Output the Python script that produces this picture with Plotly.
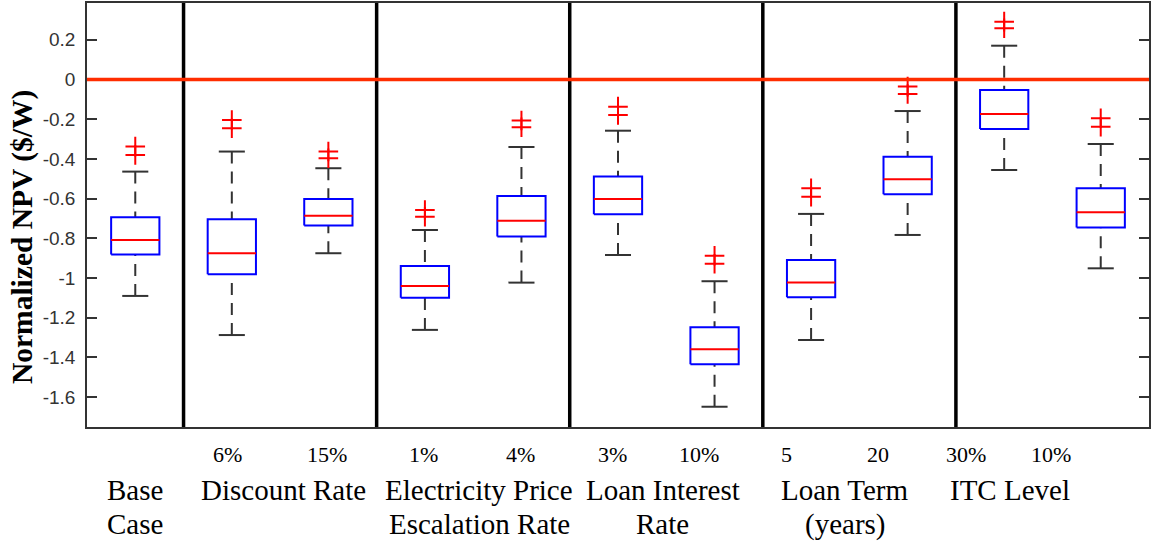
import plotly.graph_objects as go

# ---- data ----
positions = [1, 2, 3, 4, 5, 6, 7, 8, 9, 10, 11]
q1 = [-0.882, -0.981, -0.736, -1.099, -0.791, -0.679, -1.434, -1.097, -0.578, -0.249, -0.746]
median = [-0.808, -0.875, -0.686, -1.040, -0.711, -0.602, -1.359, -1.023, -0.503, -0.174, -0.669]
q3 = [-0.694, -0.704, -0.602, -0.939, -0.587, -0.489, -1.248, -0.909, -0.389, -0.053, -0.548]
upper_whisker = [-0.464, -0.363, -0.447, -0.758, -0.340, -0.258, -1.016, -0.677, -0.159, 0.170, -0.325]
lower_whisker = [-1.090, -1.287, -0.875, -1.261, -1.023, -0.884, -1.648, -1.312, -0.783, -0.456, -0.951]
outlier_hi = [-0.338, -0.204, -0.363, -0.657, -0.207, -0.137, -0.888, -0.548, -0.036, 0.291, -0.195]
outlier_lo = [-0.380, -0.246, -0.397, -0.691, -0.241, -0.179, -0.928, -0.590, -0.073, 0.258, -0.238]

level_labels = ["6%", "15%", "1%", "4%", "3%", "10%", "5", "20", "30%", "10%"]
level_label_x = [1.955, 2.981, 3.990, 4.995, 5.945, 6.839, 7.741, 8.694, 9.606, 10.487]

group_lines1 = ["Base", "Discount Rate", "Electricity Price", "Loan Interest", "Loan Term", "ITC Level"]
group_lines2 = ["Case", "", "Escalation Rate", "Rate", "(years)", ""]
group_label_x = [1.0, 2.539, 4.565, 6.466, 8.352, 10.06]
group_bounds = [1.5, 3.5, 5.5, 7.5, 9.5]

ytick_vals = [-1.6, -1.4, -1.2, -1.0, -0.8, -0.6, -0.4, -0.2, 0.0, 0.2]
ytick_text = ["-1.6", "-1.4", "-1.2", "-1", "-0.8", "-0.6", "-0.4", "-0.2", "0", "0.2"]

# ---- style ----
BOX_HW = 0.25
CAP_HW = 0.135
serif = "Liberation Serif"
sans = "Liberation Sans"

fig = go.Figure()

# group dividers and zero line
for b in group_bounds:
    fig.add_shape(type="line", xref="x", yref="paper", x0=b, x1=b, y0=0, y1=1,
                  line=dict(color="black", width=3.5), layer="above")
fig.add_shape(type="line", xref="paper", yref="y", x0=0, x1=1, y0=0, y1=0,
              line=dict(color="#ff2d00", width=3.5), layer="above")

# whiskers (dashed)
wx, wy = [], []
for p, a, b, c, d in zip(positions, upper_whisker, q3, q1, lower_whisker):
    wx += [p, p, None, p, p, None]
    wy += [a, b, None, d, c, None]
fig.add_trace(go.Scatter(x=wx, y=wy, mode="lines", hoverinfo="skip",
                         line=dict(color="#333333", width=2, dash="12px,8px")))
# caps
cx, cy = [], []
for p, a, d in zip(positions, upper_whisker, lower_whisker):
    cx += [p - CAP_HW, p + CAP_HW, None, p - CAP_HW, p + CAP_HW, None]
    cy += [a, a, None, d, d, None]
fig.add_trace(go.Scatter(x=cx, y=cy, mode="lines", hoverinfo="skip",
                         line=dict(color="#333333", width=2)))
# boxes
bx, by = [], []
for p, lo, hi in zip(positions, q1, q3):
    bx += [p - BOX_HW, p + BOX_HW, p + BOX_HW, p - BOX_HW, p - BOX_HW, None]
    by += [lo, lo, hi, hi, lo, None]
fig.add_trace(go.Scatter(x=bx, y=by, mode="lines", hoverinfo="skip",
                         line=dict(color="#0000ff", width=2)))
# medians
mx, my = [], []
for p, m in zip(positions, median):
    mx += [p - BOX_HW, p + BOX_HW, None]
    my += [m, m, None]
fig.add_trace(go.Scatter(x=mx, y=my, mode="lines", hoverinfo="skip",
                         line=dict(color="#ff0000", width=2)))
# outliers
fig.add_trace(go.Scatter(x=positions + positions, y=outlier_hi + outlier_lo, mode="markers",
                         hoverinfo="skip",
                         marker=dict(symbol="cross-thin", size=14, color="#ff0000",
                                     line=dict(color="#ff0000", width=2))))

annotations = []
for lab, x in zip(level_labels, level_label_x):
    annotations.append(dict(text=lab, x=x, xref="x", y=0, yref="paper", yanchor="middle",
                            yshift=-27, showarrow=False,
                            font=dict(family=serif, size=22, color="black")))
for l1, l2, x in zip(group_lines1, group_lines2, group_label_x):
    annotations.append(dict(text=l1, x=x, xref="x", y=0, yref="paper", yanchor="middle",
                            yshift=-63, showarrow=False,
                            font=dict(family=serif, size=29, color="black")))
    if l2:
        annotations.append(dict(text=l2, x=x, xref="x", y=0, yref="paper", yanchor="middle",
                                yshift=-97, showarrow=False,
                                font=dict(family=serif, size=29, color="black")))
annotations.append(dict(text="<b>Normalized NPV ($/W)</b>", x=0, xref="paper", xanchor="center",
                        xshift=-65, y=0.448, yref="paper", yanchor="middle", textangle=-90,
                        showarrow=False, font=dict(family=serif, size=29.5, color="black")))

fig.update_layout(
    width=1151, height=544,
    margin=dict(l=87, r=2, t=3, b=117),
    paper_bgcolor="white", plot_bgcolor="white",
    showlegend=False,
    annotations=annotations,
    xaxis=dict(range=[0.5, 11.5], showticklabels=False, ticks="", showgrid=False,
               zeroline=False, showline=True, linecolor="#333333", linewidth=1.5, mirror=True),
    yaxis=dict(range=[-1.75, 0.385], tickvals=ytick_vals, ticktext=ytick_text,
               ticks="inside", ticklen=10, tickwidth=1.5, tickcolor="#333333",
               showgrid=False, zeroline=False, showline=True, linecolor="#333333",
               linewidth=1.5, mirror="ticks", ticklabelstandoff=6, automargin=False,
               tickfont=dict(family=sans, size=19, color="#333333")),
)

fig.write_html("out.html", config={"displayModeBar": False},
               post_script="document.body.style.margin='0';document.body.style.overflow='hidden';")
